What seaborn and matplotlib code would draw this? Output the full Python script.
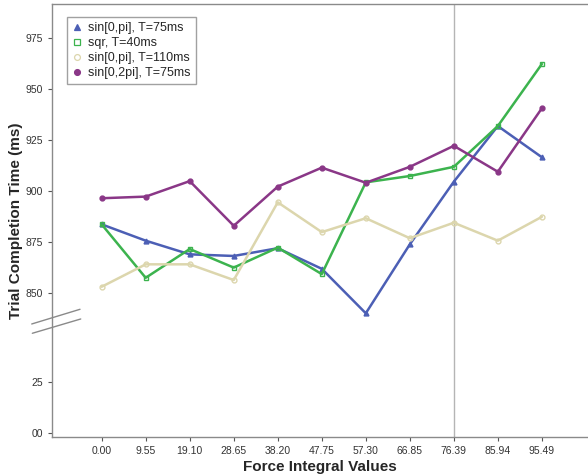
import numpy as np
import pandas as pd
import matplotlib
matplotlib.use("Agg")
import matplotlib.pyplot as plt
from matplotlib.lines import Line2D
import seaborn as sns

# ---- data ----
x_vals = [0.00, 9.55, 19.10, 28.65, 38.20, 47.75, 57.30, 66.85, 76.39, 85.94, 95.49]
x_labels = ["0.00", "9.55", "19.10", "28.65", "38.20", "47.75", "57.30", "66.85", "76.39", "85.94", "95.49"]
sin_pi_75 = [883.8, 875.8, 869.1, 868.3, 872.1, 862.0, 840.2, 874.0, 904.7, 932.0, 916.7]
sqr_40 = [883.8, 857.6, 871.7, 862.6, 872.4, 859.4, 904.4, 907.5, 912.0, 932.0, 962.4]
sin_pi_110 = [853.2, 864.2, 864.2, 856.5, 894.6, 880.0, 886.8, 877.0, 884.6, 875.8, 887.5]
sin_2pi_75 = [896.6, 897.4, 905.0, 883.1, 902.3, 911.6, 904.2, 912.0, 922.3, 909.6, 940.7]
series_names = ["sin[0,pi], T=75ms", "sqr, T=40ms", "sin[0,pi], T=110ms", "sin[0,2pi], T=75ms"]
y_ticks = [0, 25, 850, 875, 900, 925, 950, 975]
y_tick_labels = ["00", "25", "850", "875", "900", "925", "950", "975"]
ref_line_x = 76.39

colors = ["#4c5fb5", "#3cb34e", "#dcd6ad", "#8a3787"]
markers = ["^", "s", "o", "o"]
filled = [True, False, False, True]

df = pd.concat([
    pd.DataFrame({"x": x_vals, "y": v, "series": n})
    for v, n in zip([sin_pi_75, sqr_40, sin_pi_110, sin_2pi_75], series_names)
], ignore_index=True)

sns.set_style("white")
plt.rcParams["font.family"] = ["Liberation Sans", "DejaVu Sans"]

fig = plt.figure(figsize=(5.88, 4.76), dpi=100)
ax = fig.add_axes([0.089, 0.0826, 0.911, 0.908])

# broken y axis via a function scale
OFF = 781.7
BRK = 50.0
def fwd(v):
    v = np.asarray(v, dtype=float)
    return np.where(v <= BRK, v, np.maximum(v - OFF, BRK))
def inv(s):
    s = np.asarray(s, dtype=float)
    return np.where(s <= BRK, s, s + OFF)
ax.set_yscale("function", functions=(fwd, inv))

ax.axvline(ref_line_x, color="#b5b5b5", lw=1.0, zorder=1)

for name, c, m, f in zip(series_names, colors, markers, filled):
    sub = df[df["series"] == name]
    sns.lineplot(data=sub, x="x", y="y", ax=ax, color=c, lw=1.8,
                 marker=m, markersize=3.5, markeredgecolor=c,
                 markerfacecolor=(c if f else "none"), markeredgewidth=1.0,
                 legend=False, zorder=3)

ax.set_xlim(-10.7, 105.5)
ax.set_ylim(-2, 991.6)
ax.set_xticks(x_vals)
ax.set_xticklabels(x_labels)
ax.yaxis.set_major_locator(matplotlib.ticker.FixedLocator(y_ticks))
ax.yaxis.set_minor_locator(matplotlib.ticker.NullLocator())
ax.set_yticklabels(y_tick_labels)
ax.tick_params(axis="both", which="major", labelsize=7.5, colors="#555555",
               length=3, width=0.8, direction="out", left=True, bottom=True)
for lab in ax.get_xticklabels() + ax.get_yticklabels():
    lab.set_color("#333333")

for s in ["left", "bottom", "top"]:
    ax.spines[s].set_color("#8a8a8a")
    ax.spines[s].set_linewidth(1.0)
ax.spines["right"].set_visible(False)

ax.set_xlabel("Force Integral Values", fontsize=11, fontweight="bold", labelpad=3)
ax.set_ylabel("Trial Completion Time (ms)", fontsize=11, fontweight="bold", labelpad=2)

# break marks
def ax_frac(px, py):
    return ((px - 52.3) / (588 - 52.3), (436.7 - py) / (436.7 - 4.5))
for (x1, y1, x2, y2) in [(31.7, 324.0, 80.0, 309.3), (32.3, 333.3, 80.7, 319.0)]:
    a = ax_frac(x1, y1); b = ax_frac(x2, y2)
    ax.plot([a[0], b[0]], [a[1], b[1]], transform=ax.transAxes, color="#8a8a8a",
            lw=1.0, clip_on=False, zorder=5)

handles = [Line2D([0], [0], linestyle="none", marker=m, markersize=4.2,
                  markeredgecolor=c, markerfacecolor=(c if f else "none"), markeredgewidth=0.9)
           for c, m, f in zip(colors, markers, filled)]
leg = ax.legend(handles, series_names, loc="upper left", bbox_to_anchor=(0.027, 0.971),
                borderaxespad=0, fontsize=9, frameon=True, fancybox=False,
                edgecolor="#8a8a8a", handlelength=0.8, handletextpad=0.5,
                labelspacing=0.25, borderpad=0.4)
leg.get_frame().set_linewidth(1.0)

fig.savefig("out.png", dpi=100)
